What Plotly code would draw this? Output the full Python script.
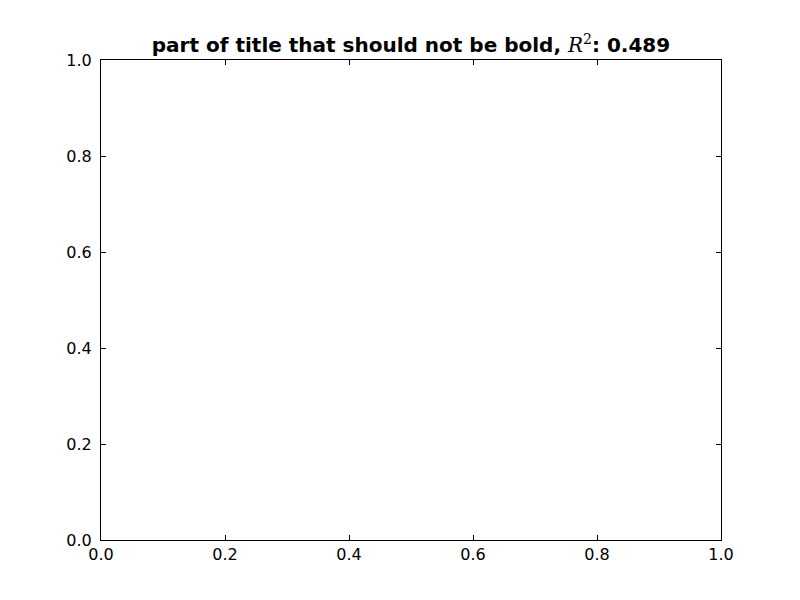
import plotly.graph_objects as go

x_ticks = [0.0, 0.2, 0.4, 0.6, 0.8, 1.0]
y_ticks = [0.0, 0.2, 0.4, 0.6, 0.8, 1.0]
x_tick_labels = ["0.0", "0.2", "0.4", "0.6", "0.8", "1.0"]
y_tick_labels = ["0.0", "0.2", "0.4", "0.6", "0.8", "1.0"]
r_squared = 0.489
x_values = []
y_values = []

title_text = (
    "<b>part of title that should not be bold, </b>"
    "<span style='font-family:\"DejaVu Serif\"; font-weight:normal'><i>R</i><sup>2</sup></span>"
    f"<b>: {r_squared:.3f}</b>"
)

fig = go.Figure(go.Scatter(x=x_values, y=y_values, mode="markers"))

axis_common = dict(
    range=[0, 1],
    showgrid=False,
    zeroline=False,
    showline=True,
    linecolor="black",
    linewidth=1,
    mirror="ticks",
    ticks="inside",
    ticklen=5,
    tickwidth=1,
    tickcolor="black",
    tickfont=dict(family="DejaVu Sans", size=16, color="black"),
)

fig.update_xaxes(tickvals=x_ticks, ticktext=x_tick_labels, ticklabelstandoff=0, **axis_common)
fig.update_yaxes(tickvals=y_ticks, ticktext=y_tick_labels, ticklabelstandoff=5, **axis_common)

fig.update_layout(
    width=800,
    height=600,
    margin=dict(l=93, r=87, t=52, b=68),
    paper_bgcolor="white",
    plot_bgcolor="white",
    showlegend=False,
    title=dict(
        text=title_text,
        x=403 / 800,
        xanchor="center",
        y=1 - 37 / 600,
        yanchor="middle",
        font=dict(family="DejaVu Sans", size=20, color="black"),
    ),
)

fig.write_html("out.html")
